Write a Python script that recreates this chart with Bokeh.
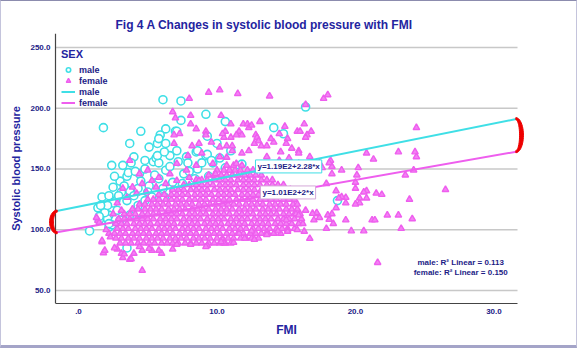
import math
from bokeh.plotting import figure
from bokeh.models import Range1d, Label, Legend, LegendItem
from bokeh.embed import file_html
from bokeh.resources import INLINE

# ---------------- data ----------------
male_fmi = [6.1, 7.4, 1.8, 4.5, 9.2, 7.4, 10.6, 6.3, 7.0, 5.9, 9.3, 16.4, 14.1, 14.8, 3.7, 5.1, 5.7, 5.8, 6.3,
            2.4, 4.0, 3.8, 3.5, 3.6, 1.7, 1.4, 2.5, 2.2, 4.4, 4.8, 5.4, 5.6, 5.8, 6.3, 6.6, 7.2, 7.8, 8.5, 9.2,
            10.0, 9.7, 10.6, 7.6, 6.8, 5.8, 5.1, 4.3, 3.7, 3.1, 2.7, 2.5, 2.2, 2.1, 2.2, 0.8, 3.5, 9.3, 9.6,
            11.8, 18.7, 8.6, 8.6, 3.0, 3.3, 4.0, 4.5, 5.0, 5.5, 6.1, 2.8, 3.5, 4.3, 4.8, 5.3, 6.2, 6.9, 7.5,
            8.0, 8.4, 3.0, 2.4, 1.9, 3.7, 4.4, 7.1, 7.9, 6.6, 4.8, 4.1, 3.2, 8.9, 10.2, 11.0, 11.5, 9.4, 8.7,
            2.6, 2.1, 1.5, 2.2, 1.5, 5.7, 6.2, 7.1, 1.6, 2.9]
male_sbp = [207, 206, 184, 181, 195, 190, 189, 183, 181, 178, 177, 201, 184, 179, 171, 168, 171, 175, 171,
            153, 160, 155, 144, 147, 127, 118, 135, 128, 146, 150, 156, 159, 155, 149, 152, 156, 160, 164, 161,
            171, 155, 151, 146, 139, 142, 136, 134, 132, 131, 124, 122, 112, 109, 102, 99, 85, 162, 157,
            154, 124, 150, 165, 140, 136, 128, 140, 131, 145, 134, 116, 124, 120, 124, 127, 127, 132, 138,
            148, 142, 108, 104, 114, 112, 114, 165, 155, 161, 157, 148, 153, 155, 159, 165, 147, 144, 136,
            144, 120, 108, 105, 111, 161, 164, 181, 120, 128]

# scattered female points around the dense cloud
female_fmi_scatter = [9.4, 10.2, 11.5, 13.8, 17.7, 18.0, 16.4, 8.0, 6.8, 7.0, 8.1, 8.1, 8.5, 10.3, 11.0, 11.9,
                      12.2, 12.3, 12.5, 13.1, 9.2, 10.6, 11.6, 11.4, 12.8, 14.9, 15.8, 16.0, 16.3, 16.8, 16.5,
                      7.3, 6.9, 10.5, 15.1, 14.1, 12.9, 13.2, 14.6, 15.9, 16.7, 18.2, 17.6, 18.3,
                      10.4, 11.0, 11.8, 12.7, 13.0, 13.6, 13.9, 14.5, 15.0, 15.4, 15.9, 16.4, 11.8, 12.3, 11.1,
                      10.7, 10.2, 13.6, 14.5, 15.2, 15.9, 16.4, 17.2, 17.4, 18.1, 18.3, 19.0, 17.9, 18.6, 19.3,
                      20.0, 20.8, 21.2, 20.3, 17.2, 16.4, 15.7, 15.0,
                      6.9, 8.2, 8.7, 9.2, 9.6, 10.2, 11.1, 7.9, 8.9, 10.7, 9.7, 8.5, 7.8, 7.1, 6.6, 5.8, 5.3,
                      4.6, 3.9, 3.2, 3.5, 2.8, 3.1, 2.5, 8.7, 9.9, 10.9, 11.4, 4.4, 5.0, 4.2, 4.9, 5.6, 6.3, 7.1,
                      8.0, 3.7,
                      20.2, 23.1, 24.4, 20.8, 21.3, 24.3, 24.4, 24.2, 23.6, 20.1, 20.0, 20.8, 20.6, 20.3, 21.5,
                      21.9, 23.9, 26.5, 22.3, 23.1, 21.4, 24.1, 20.6, 23.3, 21.6, 19.0, 18.8, 19.3, 20.0, 19.7,
                      19.3,
                      18.6, 18.3, 18.0, 17.2, 17.0, 18.4, 17.9, 15.9, 15.1, 14.4, 13.6, 12.5, 11.6, 10.4, 9.3, 10.5,
                      1.7, 1.8, 2.8, 3.1, 3.2, 3.7, 4.0, 4.6, 4.6, 5.3, 6.0, 6.8, 7.1, 8.1, 9.2, 10.3, 11.2, 12.0,
                      12.7, 13.6, 15.1, 15.8, 16.3, 16.7, 18.1, 17.4, 16.9, 2.2, 2.6, 3.3, 3.8, 4.4, 5.1, 5.8,
                      1.4, 1.7, 1.9, 1.3, 1.5, 2.0, 2.3]
female_sbp_scatter = [213, 215, 212, 210, 208, 211, 203, 208, 197, 192, 194, 187, 183, 194, 187, 187,
                      187, 184, 186, 189, 181, 181, 181, 178, 178, 185, 181, 181, 187, 181, 178,
                      179, 178, 176, 175, 172, 176, 169, 164, 165, 160, 157, 151, 152,
                      179, 176, 178, 171, 173, 169, 175, 179, 171, 167, 163, 176, 163, 165, 165,
                      169, 160, 160, 157, 159, 154.5, 151, 149, 155, 155, 146, 149, 138, 132, 126.5,
                      134, 126, 108, 122, 113, 116, 113, 108,
                      171, 169, 171, 178, 172, 168, 169, 161, 163, 159.5, 154.5, 153, 149, 154.5, 146, 143, 140.5,
                      138, 135, 134, 126.5, 122, 116, 113, 140.5, 146, 149, 154.5, 146, 149, 130, 131, 135, 138, 140.5,
                      143, 157,
                      151, 164, 184, 163, 158, 164, 160, 149, 145, 145, 139, 132, 131, 126, 130,
                      129, 125, 133, 112, 112, 108, 109, 99, 101, 73, 127, 126, 122, 121, 99,
                      108,
                      118, 113, 112, 114, 108, 105, 101, 112, 100, 99, 98, 99, 97, 92, 87, 89,
                      90, 81, 84, 80.5, 77, 75.5, 80.5, 66.5, 83, 83, 80.5, 84, 88, 88, 86, 90, 89.5, 93,
                      92, 96, 98.6, 100, 98.6, 92.8, 108.4, 110, 113.4, 97, 85, 80, 76, 86, 84.6, 83,
                      107.6, 91, 83, 110, 106, 100, 94]

# dense female cloud, read row by row: (systolic value, FMI values in that row)
female_core_rows = [
    (89, [3.0, 3.4, 3.8, 4.3, 4.7, 5.1, 5.5, 6.0, 6.4, 6.8, 7.2, 7.7, 8.1, 8.5, 8.9, 9.4, 9.8, 10.2, 10.6, 11.0]),
    (93, [2.7, 3.1, 3.6, 4.0, 4.4, 4.9, 5.3, 5.7, 6.1, 6.6, 7.0, 7.4, 7.8, 8.3, 8.7, 9.1, 9.5, 10.0, 10.4, 10.8,
          11.2, 11.7, 12.1, 12.5, 13.0]),
    (97, [2.6, 3.0, 3.4, 3.9, 4.3, 4.7, 5.1, 5.6, 6.0, 6.4, 6.8, 7.3, 7.7, 8.1, 8.5, 9.0, 9.4, 9.8, 10.2, 10.7,
          11.1, 11.5, 11.9, 12.4, 12.8, 13.2, 13.7, 14.1, 14.6]),
    (101, [2.8, 3.2, 3.6, 4.1, 4.5, 4.9, 5.3, 5.8, 6.2, 6.6, 7.0, 7.5, 7.9, 8.3, 8.7, 9.2, 9.6, 10.0, 10.4, 10.9,
           11.3, 11.7, 12.1, 12.6, 13.0, 13.4, 13.8, 14.3, 14.7, 15.1, 15.6]),
    (105, [2.7, 3.1, 3.5, 4.0, 4.4, 4.8, 5.2, 5.7, 6.1, 6.5, 6.9, 7.4, 7.8, 8.2, 8.6, 9.1, 9.5, 9.9, 10.3, 10.8,
           11.2, 11.6, 12.0, 12.5, 12.9, 13.3, 13.7, 14.2, 14.6, 15.0, 15.4, 15.9, 16.2]),
    (109, [2.9, 3.3, 3.7, 4.2, 4.6, 5.0, 5.4, 5.9, 6.3, 6.7, 7.1, 7.6, 8.0, 8.4, 8.8, 9.3, 9.7, 10.1, 10.5, 11.0,
           11.4, 11.8, 12.2, 12.7, 13.1, 13.5, 13.9, 14.4, 14.8, 15.2, 15.6, 16.1]),
    (113, [3.3, 3.7, 4.1, 4.6, 5.0, 5.4, 5.8, 6.3, 6.7, 7.1, 7.5, 8.0, 8.4, 8.8, 9.2, 9.7, 10.1, 10.5, 10.9, 11.4,
           11.8, 12.2, 12.6, 13.1, 13.5, 13.9, 14.3, 14.8, 15.2, 15.6, 16.0]),
    (117, [3.9, 4.3, 4.8, 5.2, 5.6, 6.0, 6.5, 6.9, 7.3, 7.7, 8.2, 8.6, 9.0, 9.4, 9.9, 10.3, 10.7, 11.1, 11.6, 12.0,
           12.4, 12.8, 13.3, 13.7, 14.1, 14.5, 15.0, 15.4, 15.8]),
    (121, [4.4, 4.8, 5.3, 5.7, 6.1, 6.5, 7.0, 7.4, 7.8, 8.2, 8.7, 9.1, 9.5, 9.9, 10.4, 10.8, 11.2, 11.6, 12.1,
           12.5, 12.9, 13.3, 13.8, 14.2, 14.6, 15.0, 15.5, 15.8]),
    (125, [5.0, 5.4, 5.8, 6.3, 6.7, 7.1, 7.5, 8.0, 8.4, 8.8, 9.2, 9.7, 10.1, 10.5, 10.9, 11.4, 11.8, 12.2, 12.6,
           13.1, 13.5, 13.9, 14.3, 14.8, 15.2, 15.6]),
    (129, [5.8, 6.2, 6.7, 7.1, 7.5, 7.9, 8.4, 8.8, 9.2, 9.6, 10.1, 10.5, 10.9, 11.3, 11.8, 12.2, 12.6, 13.0, 13.5,
           13.9, 14.3, 14.7, 15.2, 15.6]),
    (133, [6.8, 7.2, 7.6, 8.1, 8.5, 8.9, 9.3, 9.8, 10.2, 10.6, 11.0, 11.5, 11.9, 12.3, 12.7, 13.2, 13.6, 14.0,
           14.4, 14.9, 15.3]),
    (137, [7.6, 8.0, 8.5, 8.9, 9.3, 9.7, 10.2, 10.6, 11.0, 11.4, 11.9, 12.3, 12.7, 13.1, 13.6, 14.0, 14.4, 14.8]),
    (141, [8.5, 8.9, 9.3, 9.8, 10.2, 10.6, 11.0, 11.5, 11.9, 12.3, 12.7, 13.2, 13.6, 14.0]),
    (145, [9.4, 9.8, 10.3, 10.7, 11.1, 11.5, 12.0, 12.4, 12.8, 13.2]),
    (149, [10.0, 10.5, 10.9, 11.3, 11.7, 12.2, 12.6]),
    (153, [10.7, 11.2, 11.8]),
]

# fitted lines (from the chart's equations) and fit statistics
male_intercept, male_slope = 119.0, 2.28
female_intercept, female_slope = 101.0, 2.0
male_equation = "y=1.19E2+2.28*x"
female_equation = "y=1.01E2+2*x"
male_r2 = "0.113"
female_r2 = "0.150"

x_ticks = [0, 10, 20, 30]
x_tick_labels = [".0", "10.0", "20.0", "30.0"]
y_ticks = [50, 100, 150, 200, 250]
y_tick_labels = ["50.0", "100.0", "150.0", "200.0", "250.0"]

# ---------------- build ----------------
female_fmi = [x for _, xs in female_core_rows for x in xs] + female_fmi_scatter
female_sbp = [y for y, xs in female_core_rows for _ in xs] + female_sbp_scatter

X_LO, X_HI = -1.66, 31.7        # extent of the chart's axes / fit lines
PAD = 8 / 13.85                 # a little room so the end brackets are not cut off
Y_LO, Y_HI = 39.3, 261.5

FONT = "Liberation Sans"
NAVY = "#1c1c86"
BLUE = "#2424a0"
CYAN = "#3fdfe6"
PINK = "#ee5eee"
RED = "#ee0000"
AXIS = "#444444"

p = figure(width=577, height=348, x_range=Range1d(X_LO - PAD, X_HI + PAD), y_range=Range1d(Y_LO, Y_HI),
           output_backend="svg", toolbar_location=None,
           min_border_left=46, min_border_right=53, min_border_top=32, min_border_bottom=46)
p.styles = {"border-top": "1px solid #8c8cae", "border-left": "1px solid #c4c4dc",
            "border-right": "1px solid #c4c4dc", "border-bottom": "3px solid #a4a4c8"}
p.outline_line_color = None
p.background_fill_color = "white"
p.border_fill_color = "white"

p.title.text = "Fig 4 A Changes in systolic blood pressure with FMI"
p.title.align = "left"
p.title.offset = 68
p.title.standoff = 3
p.title.text_font = FONT
p.title.text_font_size = "12px"
p.title.text_font_style = "bold"
p.title.text_color = BLUE

for ax in (p.xaxis[0], p.yaxis[0]):
    ax.major_tick_in = 0
    ax.major_tick_out = 0
    ax.minor_tick_in = 0
    ax.minor_tick_out = 0
    ax.axis_line_color = AXIS
    ax.axis_line_width = 1
    ax.major_label_text_font = FONT
    ax.major_label_text_font_size = "8px"
    ax.major_label_text_font_style = "bold"
    ax.major_label_text_color = NAVY
    ax.major_label_standoff = 5
    ax.axis_label_text_font = FONT
    ax.axis_label_text_font_style = "bold"
    ax.axis_label_text_color = BLUE

p.xaxis.ticker = x_ticks
p.xaxis.major_label_overrides = dict(zip(x_ticks, x_tick_labels))
p.xaxis.bounds = (X_LO, X_HI)
p.yaxis.ticker = y_ticks
p.yaxis.major_label_overrides = dict(zip(y_ticks, y_tick_labels))
p.yaxis.axis_line_color = None
p.yaxis.major_label_standoff = -3
p.xaxis.axis_label = "FMI"
p.xaxis.axis_label_text_font_size = "12px"
p.xaxis.axis_label_standoff = 6
p.yaxis.axis_label = "Systolic blood pressure"
p.yaxis.axis_label_text_font_size = "11px"
p.yaxis.axis_label_standoff = 5

p.xgrid.grid_line_color = None
p.ygrid.grid_line_color = None
p.segment(x0=[X_LO] * len(y_ticks), y0=y_ticks, x1=[X_HI] * len(y_ticks), y1=y_ticks,
          line_color="#c8c8c8", line_width=1.5)
# left axis line at the start of the data extent
p.segment(x0=[X_LO], y0=[Y_LO], x1=[X_LO], y1=[Y_HI], line_color=AXIS, line_width=1.2)

rm = p.scatter(male_fmi, male_sbp, marker="circle", size=8, line_color=CYAN, line_width=1.6,
               fill_color="white")
rf = p.scatter(female_fmi, female_sbp, marker="triangle", size=6.5, line_color=PINK, line_width=1.4,
               fill_color="#f480f4")

xs = [X_LO, X_HI]
male_line_y = [male_intercept + male_slope * x for x in xs]
female_line_y = [female_intercept + female_slope * x for x in xs]
lm = p.line(xs, male_line_y, line_color=CYAN, line_width=2)
lf = p.line(xs, female_line_y, line_color=PINK, line_width=2)


def crescent(x0, ya, yb, direction):
    mid = (ya + yb) / 2
    half = abs(yb - ya) / 2
    n = 24
    px, py = [], []
    for i in range(n + 1):
        t = math.pi * i / n
        px.append(x0 + 0.12 * -direction + direction * 0.55 * math.sin(t))
        py.append(mid + (half + 1.0) * math.cos(t))
    for i in range(n, -1, -1):
        t = math.pi * i / n
        px.append(x0 + 0.12 * -direction + direction * 0.27 * math.sin(t))
        py.append(mid + (half - 0.8) * math.cos(t))
    return px, py


for x0, ya, yb, d in ((X_LO, female_line_y[0], male_line_y[0], -1),
                      (X_HI, female_line_y[1], male_line_y[1], 1)):
    cx, cy = crescent(x0, ya, yb, d)
    p.patch(cx, cy, fill_color=RED, line_color=RED, line_width=1)

p.add_layout(Label(x=12.78, y=152.1, text=male_equation, text_font=FONT, text_font_size="8px",
                   text_font_style="bold", text_color=NAVY, text_baseline="middle",
                   background_fill_color="white", border_line_color=CYAN, border_line_width=1,
                   padding=2))
p.add_layout(Label(x=13.14, y=130.7, text=female_equation, text_font=FONT, text_font_size="8px",
                   text_font_style="bold", text_color=NAVY, text_baseline="middle",
                   background_fill_color="white", border_line_color="#d4a8d8", border_line_width=1,
                   padding=2))

p.add_layout(Label(x=27.6, y=73.0, text="male: R\u00b2 Linear = " + male_r2, text_font=FONT,
                   text_font_size="8px", text_font_style="bold", text_color=NAVY,
                   text_align="center", text_baseline="middle"))
p.add_layout(Label(x=27.6, y=64.8, text="female: R\u00b2 Linear = " + female_r2, text_font=FONT,
                   text_font_size="8px", text_font_style="bold", text_color=NAVY,
                   text_align="center", text_baseline="middle"))

legend = Legend(items=[LegendItem(label="male", renderers=[rm]),
                       LegendItem(label="female", renderers=[rf]),
                       LegendItem(label="male", renderers=[lm]),
                       LegendItem(label="female", renderers=[lf])],
                location=(11, 192), title="SEX",
                title_text_font=FONT, title_text_font_size="11px", title_text_font_style="bold",
                title_text_color=BLUE, title_standoff=4,
                label_text_font=FONT, label_text_font_size="9px", label_text_font_style="bold",
                label_text_color=NAVY, glyph_width=14, glyph_height=11, label_height=11,
                label_standoff=4, spacing=0, padding=3, margin=0,
                background_fill_alpha=0, border_line_alpha=0)
p.add_layout(legend)

open("out.html", "w").write(file_html(p, INLINE))
